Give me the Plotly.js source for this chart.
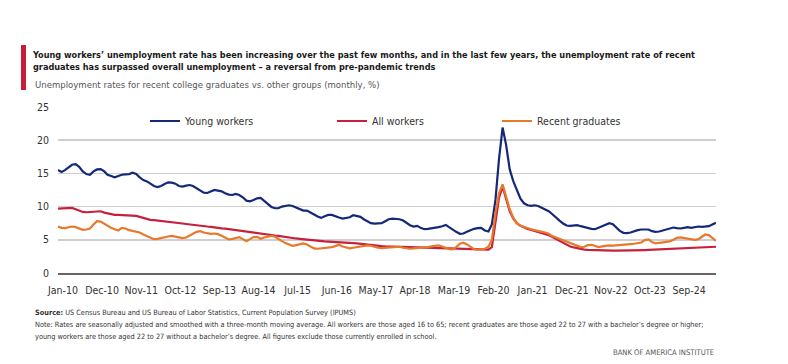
<!DOCTYPE html>
<html><head><meta charset="utf-8">
<script src="https://cdn.plot.ly/plotly-3.0.1.min.js"></script>
<style>html,body{margin:0;padding:0;background:#fff;} #chart{width:788px;height:364px;}</style>
</head><body><div id="chart"></div>
<script>
// ---- data (monthly, %, Jan-2010 .. Jun-2025) ----
const startYear = 2010;
const startMonth = 1;
const seriesNames = ['Young workers', 'All workers', 'Recent graduates'];

const youngWorkers = [
  15.5, 15.2, 15.5, 15.9, 16.3, 16.4, 16.0, 15.3, 14.9, 14.8, 15.3, 15.6,
  15.65, 15.3, 14.8, 14.6, 14.4, 14.6, 14.8, 14.85, 14.9, 15.1, 14.9, 14.4,
  14.0, 13.8, 13.5, 13.1, 12.95, 13.1, 13.4, 13.65, 13.6, 13.45, 13.1, 13.0,
  13.15, 13.25, 13.1, 12.8, 12.4, 12.1, 12.05, 12.3, 12.5, 12.4, 12.3, 12.0,
  11.8, 11.75, 11.9, 11.75, 11.4, 10.9, 10.8, 11.0, 11.25, 11.3, 10.8, 10.3,
  9.95, 9.75, 9.75, 10.0, 10.15, 10.2, 10.1, 9.9, 9.6, 9.4, 9.4, 9.15,
  8.8, 8.5, 8.3, 8.55, 8.75, 8.75, 8.5, 8.35, 8.2, 8.25, 8.4, 8.7,
  8.6, 8.45, 8.1, 7.8, 7.5, 7.45, 7.45, 7.5, 7.8, 8.1, 8.2, 8.15,
  8.1, 7.9, 7.5, 7.2, 7.0, 7.1, 6.8, 6.6, 6.65, 6.7, 6.8, 6.9,
  7.05, 7.25, 6.9, 6.5, 6.2, 5.9, 5.95, 6.2, 6.45, 6.65, 6.75, 6.8,
  6.4, 6.25, 7.3, 11.0, 17.1, 21.9, 19.3, 15.6, 13.8, 12.4, 11.2, 10.5,
  10.2, 10.1, 10.2, 10.1, 9.8, 9.55, 9.3, 8.85, 8.3, 7.9, 7.45, 7.15,
  7.1, 7.2, 7.2, 7.05, 6.9, 6.75, 6.65, 6.6, 6.8, 7.0, 7.3, 7.5,
  7.35, 6.85, 6.35, 6.05, 6.0, 6.1, 6.3, 6.45, 6.55, 6.6, 6.55, 6.3,
  6.2, 6.25, 6.4, 6.5, 6.7, 6.85, 6.75, 6.7, 6.8, 6.9, 6.8, 6.9,
  7.0, 6.95, 7.0, 7.05, 7.3, 7.55
];

const allWorkers = [
  9.7, 9.7, 9.7, 9.75, 9.8, 9.6, 9.4, 9.2, 9.15, 9.2, 9.25, 9.3,
  9.3, 9.1, 9.0, 8.85, 8.75, 8.75, 8.72, 8.7, 8.7, 8.68, 8.6, 8.45,
  8.3, 8.1, 8.0, 7.95, 7.9, 7.85, 7.8, 7.75, 7.65, 7.55, 7.5, 7.45,
  7.38, 7.3, 7.25, 7.2, 7.15, 7.05, 7.0, 6.95, 6.85, 6.8, 6.72, 6.68,
  6.6, 6.5, 6.45, 6.4, 6.35, 6.28, 6.2, 6.1, 6.0, 5.95, 5.85, 5.8,
  5.72, 5.65, 5.6, 5.5, 5.45, 5.4, 5.3, 5.2, 5.15, 5.08, 5.0, 4.95,
  4.88, 4.82, 4.78, 4.75, 4.72, 4.7, 4.68, 4.66, 4.65, 4.62, 4.57, 4.5,
  4.45, 4.38, 4.3, 4.25, 4.2, 4.15, 4.1, 4.05, 4.02, 4.0, 4.0, 3.98,
  3.95, 3.92, 3.9, 3.88, 3.85, 3.83, 3.8, 3.78, 3.76, 3.74, 3.72, 3.7,
  3.7, 3.68, 3.66, 3.65, 3.64, 3.63, 3.62, 3.6, 3.58, 3.57, 3.56, 3.55,
  3.53, 3.53, 3.9, 7.8, 11.3, 13.0, 11.0, 9.3, 8.2, 7.5, 7.1, 6.85,
  6.65, 6.5, 6.35, 6.2, 6.1, 5.9, 5.7, 5.4, 5.1, 4.8, 4.5, 4.25,
  4.0, 3.85, 3.72, 3.6, 3.52, 3.47, 3.44, 3.41, 3.39, 3.38, 3.37, 3.36,
  3.36, 3.36, 3.36, 3.37, 3.38, 3.39, 3.4, 3.42, 3.44, 3.46, 3.48, 3.5,
  3.52, 3.55, 3.58, 3.6, 3.63, 3.66, 3.7, 3.73, 3.76, 3.78, 3.8, 3.82,
  3.85, 3.87, 3.9, 3.92, 3.93, 3.95
];

const recentGraduates = [
  7.0, 6.8, 6.75, 6.9, 7.0, 6.9, 6.7, 6.5, 6.55, 6.7, 7.3, 7.8,
  7.75, 7.4, 7.1, 6.8, 6.6, 6.4, 6.8, 6.7, 6.45, 6.3, 6.25, 6.1,
  5.8, 5.6, 5.3, 5.1, 5.15, 5.3, 5.4, 5.5, 5.6, 5.5, 5.35, 5.25,
  5.35, 5.6, 5.9, 6.2, 6.3, 6.1, 6.0, 5.9, 5.95, 5.85, 5.6, 5.3,
  5.05, 5.15, 5.3, 5.4, 5.1, 4.8, 5.1, 5.4, 5.45, 5.15, 5.35, 5.5,
  5.6, 5.45, 5.1, 4.8, 4.5, 4.3, 4.1, 4.2, 4.35, 4.45, 4.3, 4.0,
  3.7, 3.65, 3.7, 3.82, 3.85, 3.9, 4.05, 4.25, 4.0, 3.8, 3.7, 3.8,
  3.9, 4.05, 4.12, 4.15, 4.1, 3.9, 3.8, 3.75, 3.78, 3.82, 3.85, 3.9,
  3.95, 3.8, 3.7, 3.65, 3.7, 3.75, 3.7, 3.8, 3.9, 4.0, 4.1, 4.15,
  4.0, 3.8, 3.6, 3.55, 3.9, 4.4, 4.55, 4.3, 3.9, 3.6, 3.5, 3.55,
  3.65, 3.95, 5.0, 9.0, 12.0, 13.35, 11.6, 9.6, 8.3, 7.5, 7.1, 6.9,
  6.75, 6.6, 6.45, 6.35, 6.3, 6.1, 5.9, 5.55, 5.35, 5.15, 4.95, 4.7,
  4.45, 4.25, 4.05, 3.9, 3.95, 4.2, 4.25, 4.1, 3.9, 4.0, 4.1, 4.15,
  4.12, 4.15, 4.15, 4.2, 4.25, 4.35, 4.4, 4.45, 4.6, 4.95, 5.05, 4.65,
  4.45, 4.55, 4.65, 4.7, 4.75, 5.0, 5.3, 5.35, 5.25, 5.1, 5.0, 5.0,
  5.1, 5.45, 5.8, 5.7, 5.25, 4.85
];

const tickStart = '2010-01-01';
const tickStepMonths = 11;
const yTicks = [0, 5, 10, 15, 20, 25];

// ---- build ----
function monthDates(n) {
  const out = [];
  for (let i = 0; i < n; i++) {
    const k = startMonth - 1 + i;
    const y = startYear + Math.floor(k / 12);
    const m = (k % 12) + 1;
    out.push(y + '-' + String(m).padStart(2, '0') + '-01');
  }
  return out;
}
const dates = monthDates(youngWorkers.length);

const FONT = '"DejaVu Sans Condensed", "Open Sans", sans-serif';
const colors = ['#14287a', '#c6203d', '#e8782a'];
const values = [youngWorkers, allWorkers, recentGraduates];
const legendIds = ['legend', 'legend2', 'legend3'];

// plot area in pixels: x 58..716, y 107..273
const L = 58, R = 716, T = 107, B = 273;
const px = x => (x - L) / (R - L);
const py = y => (B - y) / (B - T);

const traces = values.map((v, i) => ({
  type: 'scatter', mode: 'lines', x: dates, y: v, name: seriesNames[i],
  line: {color: colors[i], width: 2.2}, legend: legendIds[i],
  hoverinfo: 'x+y+name'
}));

const legendBase = {
  orientation: 'h', yanchor: 'middle', xanchor: 'left', y: py(121),
  bgcolor: 'rgba(0,0,0,0)', borderwidth: 0,
  font: {family: FONT, size: 10.5, color: '#333'}
};

const footFont = {family: FONT, size: 7.3, color: '#333'};
const annotations = [
  {text: 'Unemployment rates for recent college graduates vs. other groups (monthly, %)',
   xref: 'paper', yref: 'paper', x: px(33), y: py(84), xanchor: 'left', yanchor: 'middle',
   showarrow: false, font: {family: FONT, size: 9.5, color: '#555'}},
  {text: '<b>Source:</b> US Census Bureau and US Bureau of Labor Statistics, Current Population Survey (IPUMS)',
   xref: 'paper', yref: 'paper', x: px(33), y: py(312), xanchor: 'left', yanchor: 'middle',
   showarrow: false, font: footFont},
  {text: 'Note: Rates are seasonally adjusted and smoothed with a three-month moving average. All workers are those aged 16 to 65; recent graduates are those aged 22 to 27 with a bachelor\u2019s degree or higher;',
   xref: 'paper', yref: 'paper', x: px(33), y: py(324), xanchor: 'left', yanchor: 'middle',
   showarrow: false, font: footFont},
  {text: 'young workers are those aged 22 to 27 without a bachelor\u2019s degree. All figures exclude those currently enrolled in school.',
   xref: 'paper', yref: 'paper', x: px(33), y: py(336), xanchor: 'left', yanchor: 'middle',
   showarrow: false, font: footFont},
  {text: 'BANK OF AMERICA INSTITUTE',
   xref: 'paper', yref: 'paper', x: px(716), y: py(352), xanchor: 'right', yanchor: 'middle',
   showarrow: false, font: {family: FONT, size: 7.6, color: '#555'}}
];

const layout = {
  width: 788, height: 364,
  margin: {l: L, r: 788 - R, t: T, b: 364 - B, pad: 0},
  paper_bgcolor: '#ffffff', plot_bgcolor: '#ffffff',
  font: {family: FONT, color: '#333'},
  title: {
    text: '<b>Young workers\u2019 unemployment rate has been increasing over the past few months, and in the last few years, the unemployment rate of recent</b><br><b>graduates has surpassed overall unemployment \u2013 a reversal from pre-pandemic trends</b>',
    x: 33 / 788, xanchor: 'left', xref: 'container',
    y: 1 - 58 / 364, yanchor: 'top', yref: 'container',
    font: {family: FONT, size: 9.1, color: '#1a1a1a'}
  },
  showlegend: true,
  legend: Object.assign({}, legendBase, {x: px(145)}),
  legend2: Object.assign({}, legendBase, {x: px(332)}),
  legend3: Object.assign({}, legendBase, {x: px(497)}),
  xaxis: {
    type: 'date', range: [dates[0], dates[dates.length - 1]],
    tick0: tickStart, dtick: 'M' + tickStepMonths, tickformat: '%b-%y', tickangle: 0,
    showgrid: false, zeroline: false, showline: true, linecolor: '#666', linewidth: 2,
    ticks: '', tickfont: {family: FONT, size: 10.5, color: '#333'}, ticklabelstandoff: 6,
    ticklabelshift: 5
  },
  yaxis: {
    range: [0, 25], tickvals: yTicks, showgrid: true, gridcolor: '#cfcfcf', gridwidth: 1.5,
    zeroline: false, showline: false, ticks: '',
    tickfont: {family: FONT, size: 10.5, color: '#333'}, ticklabelstandoff: 8
  },
  shapes: [
    {type: 'rect', xref: 'paper', yref: 'paper', x0: px(21), x1: px(26), y0: py(45), y1: py(90),
     fillcolor: '#c41e3a', line: {width: 0}}
  ],
  annotations: annotations
};

Plotly.newPlot('chart', traces, layout, {displayModeBar: false, staticPlot: true});
</script>
</body></html>
